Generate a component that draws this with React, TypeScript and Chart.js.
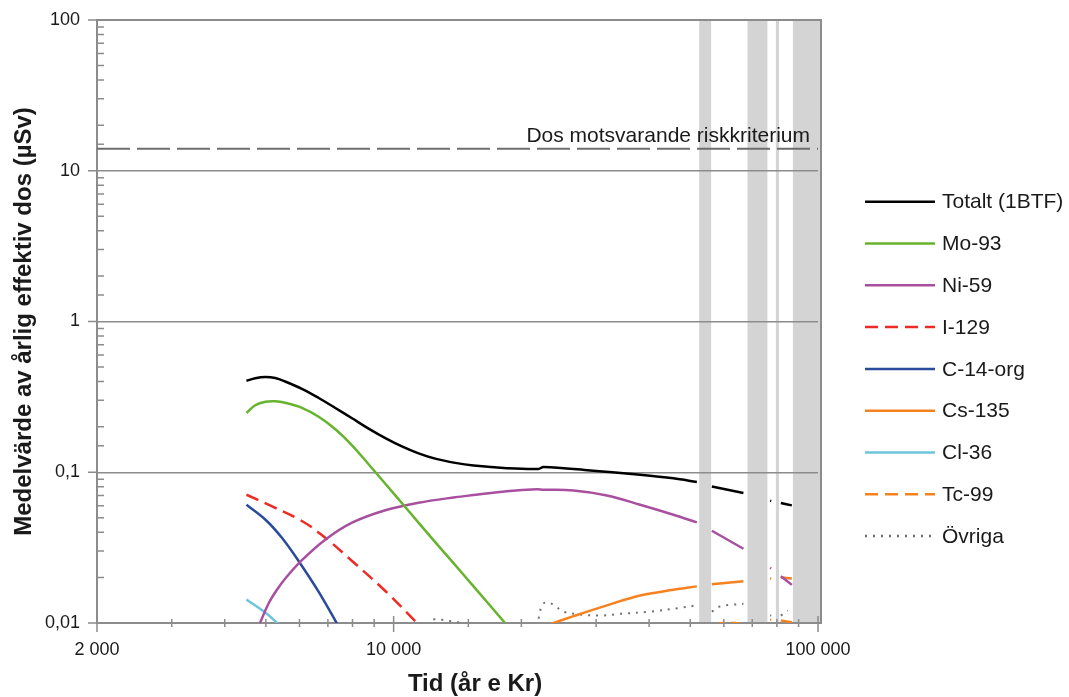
import React, { useEffect, useRef } from 'react';
import { Chart, registerables } from 'chart.js';

Chart.register(...registerables);

// ---------- data ----------
const xMin = 2000;
const xMax = 100000;
const yMin = 0.01;
const yMax = 100;

const xTickValues = [2000, 10000, 100000];
const xTickLabels = ['2 000', '10 000', '100 000'];
const yTickValues = [0.01, 0.1, 1, 10, 100];
const yTickLabels = ['0,01', '0,1', '1', '10', '100'];

const bandStarts = [52480, 68200, 79570, 87280];
const bandEnds = [56000, 76000, 80920, 100000];

const riskLevel = 14;
const riskLabel = 'Dos motsvarande riskkriterium';

const xTitle = 'Tid (år e Kr)';
const yTitle = 'Medelvärde av årlig effektiv dos (µSv)';

const totT = [4500, 4720, 4990, 5260, 5550, 6080, 6660, 7290, 7980, 8730, 9560, 10460, 11450, 12530, 13970, 15430, 18490, 21940, 22550, 29050, 38100, 45630, 51820, 54000, 56220, 66720, 72000, 77130, 77600, 79500, 81740, 86770];
const totV = [0.4044, 0.4207, 0.4279, 0.4214, 0.400, 0.3577, 0.311, 0.2669, 0.2281, 0.1949, 0.1686, 0.1485, 0.1335, 0.1231, 0.1154, 0.1109, 0.1065, 0.1052, 0.1083, 0.1028, 0.0962, 0.0911, 0.0861, null, 0.0805, 0.0728, null, 0.0647, 0.0645, null, 0.0625, 0.0603];

const moT = [4500, 4720, 4990, 5260, 5550, 6080, 6660, 7290, 7980, 8730, 9560, 10650, 12530, 13970, 15430, 18490];
const moV = [0.247, 0.2782, 0.2934, 0.2957, 0.289, 0.2677, 0.2334, 0.1928, 0.151, 0.113, 0.0839, 0.0588, 0.0344, 0.0242, 0.0175, 0.00967];

const niT = [4800, 5070, 5310, 5550, 6080, 6900, 7980, 9560, 11450, 13970, 15430, 18490, 21750, 22550, 26540, 31810, 38100, 45630, 51820, 54000, 56220, 66720, 72000, 77130, 77600, 79500, 81740, 86770];
const niV = [0.0094, 0.01343, 0.01663, 0.01967, 0.02609, 0.03568, 0.04627, 0.05598, 0.06277, 0.06826, 0.07059, 0.07482, 0.07716, 0.0766, 0.0757, 0.0702, 0.0609, 0.0523, 0.0465, null, 0.0409, 0.0311, null, 0.0232, 0.0230, null, 0.0204, 0.0179];

const iT = [4500, 5070, 6080, 6900, 7980, 9560, 11600];
const iV = [0.0709, 0.0609, 0.0475, 0.0368, 0.0258, 0.0163, 0.0094];

const cT = [4500, 4990, 5460, 5970, 6660, 7450];
const cV = [0.0609, 0.0484, 0.0366, 0.0258, 0.01608, 0.0093];

const csT = [23300, 26540, 31810, 38100, 45630, 51820, 54000, 56220, 66720, 72000, 77130, 77600, 79500, 81740, 86770];
const csV = [0.0098, 0.0111, 0.0131, 0.0152, 0.0166, 0.0175, null, 0.0181, 0.0189, null, 0.0197, 0.0197, null, 0.0201, 0.0197];

const clT = [4500, 4990, 5450];
const clV = [0.0143, 0.0117, 0.0094];

const tcT = [56220, 59500, 64000, 66720, 72000, 77130, 77600, 79500, 81740, 86770];
const tcV = [0.0095, 0.0100, 0.0100, 0.0097, null, 0.0105, 0.0105, null, 0.0104, 0.0101];

const ovT = [12400, 13000, 13600, 14800, 16000, 19000, 21700, 21940, 22100, 22500, 23130, 24030, 25080, 27510, 30670, 34180, 40230, 47320, 51820, 54000, 56220, 58800, 62650, 66720, 72000, 77130, 77600, 79500, 81740, 84890];
const ovV = [0.0106, 0.0105, 0.0103, 0.0099, 0.0095, null, 0.0095, 0.0105, 0.0118, 0.0134, 0.0137, 0.0130, 0.0119, 0.0114, 0.0112, 0.0115, 0.0119, 0.0126, 0.0131, null, 0.0119, 0.0129, 0.0132, 0.0134, null, 0.0112, 0.0112, null, 0.0112, 0.0121];

// ---------- styles ----------
const FONT = '"Liberation Sans", Arial, Helvetica, sans-serif';
const TEXT = '#1a1a1a';
const AXIS = '#8c8c8c';
const BAND = '#d4d4d4';

const SERIES = [
  { label: 'Totalt (1BTF)', T: totT, V: totV, color: '#000000', dash: [] as number[] },
  { label: 'Mo-93', T: moT, V: moV, color: '#66b32e', dash: [] as number[] },
  { label: 'Ni-59', T: niT, V: niV, color: '#a8509f', dash: [] as number[] },
  { label: 'I-129', T: iT, V: iV, color: '#ee2a24', dash: [13, 7] },
  { label: 'C-14-org', T: cT, V: cV, color: '#2a4b9b', dash: [] as number[] },
  { label: 'Cs-135', T: csT, V: csV, color: '#f5821f', dash: [] as number[] },
  { label: 'Cl-36', T: clT, V: clV, color: '#6cc5da', dash: [] as number[] },
  { label: 'Tc-99', T: tcT, V: tcV, color: '#f5821f', dash: [13, 7] },
  { label: 'Övriga', T: ovT, V: ovV, color: '#707070', dash: [2, 6] },
];

const isPow10 = (v: number) => {
  const l = Math.log10(v);
  return Math.abs(l - Math.round(l)) < 1e-6;
};
const idxOf = (arr: number[], v: number) => arr.findIndex((t) => Math.abs(t - v) / t < 1e-6);

const decor = {
  id: 'decor',
  beforeDraw(chart: any) {
    const { ctx, chartArea: a } = chart;
    const x = chart.scales.x;
    ctx.save();
    ctx.fillStyle = BAND;
    for (let i = 0; i < bandStarts.length; i++) {
      const x0 = x.getPixelForValue(bandStarts[i]);
      const x1 = bandEnds[i] >= xMax ? a.right + 3 : x.getPixelForValue(bandEnds[i]);
      ctx.fillRect(x0, a.top, x1 - x0, a.bottom - a.top);
    }
    ctx.restore();
  },
  beforeDatasetsDraw(chart: any) {
    const { ctx, chartArea: a } = chart;
    const x = chart.scales.x;
    const y = chart.scales.y;
    ctx.save();
    ctx.strokeStyle = AXIS;
    ctx.lineWidth = 2;
    ctx.strokeRect(a.left, a.top, a.right + 3 - a.left, a.bottom - a.top);
    ctx.lineWidth = 1.5;
    ctx.beginPath();
    for (const t of y.ticks) {
      const py = y.getPixelForValue(t.value);
      if (isPow10(t.value)) {
        ctx.moveTo(a.left - 9, py);
        ctx.lineTo(a.left, py);
      } else {
        ctx.moveTo(a.left, py);
        ctx.lineTo(a.left + 7, py);
      }
    }
    for (const t of x.ticks) {
      const px = x.getPixelForValue(t.value);
      if (idxOf(xTickValues, t.value) >= 0) {
        ctx.moveTo(px, a.bottom - 7);
        ctx.lineTo(px, a.bottom + 9);
      } else {
        ctx.moveTo(px, a.bottom - 4);
        ctx.lineTo(px, a.bottom + 4);
      }
    }
    ctx.stroke();
    ctx.restore();
  },
  afterDraw(chart: any) {
    const { ctx, chartArea: a } = chart;
    const y = chart.scales.y;
    ctx.save();
    // risk label
    ctx.fillStyle = TEXT;
    ctx.font = `21px ${FONT}`;
    ctx.textAlign = 'right';
    ctx.textBaseline = 'alphabetic';
    ctx.fillText(riskLabel, a.right - 8, y.getPixelForValue(riskLevel) - 7);
    // axis titles
    ctx.font = `bold 24px ${FONT}`;
    ctx.textAlign = 'center';
    ctx.textBaseline = 'middle';
    ctx.fillText(xTitle, 475, 684);
    ctx.save();
    ctx.translate(24, (a.top + a.bottom) / 2);
    ctx.rotate(-Math.PI / 2);
    ctx.fillText(yTitle, 0, 0);
    ctx.restore();
    // legend
    const lx0 = 865, lx1 = 935, tx = 942, ly0 = 201.7, step = 41.8;
    ctx.font = `21px ${FONT}`;
    ctx.textAlign = 'left';
    SERIES.forEach((s, i) => {
      const ly = ly0 + i * step;
      ctx.strokeStyle = s.color;
      ctx.lineWidth = 2.5;
      ctx.setLineDash(s.dash);
      ctx.beginPath();
      ctx.moveTo(lx0, ly);
      ctx.lineTo(lx1, ly);
      ctx.stroke();
      ctx.setLineDash([]);
      ctx.fillStyle = TEXT;
      ctx.fillText(s.label, tx, ly + 1);
    });
    ctx.restore();
  },
};

export default function App() {
  const ref = useRef<HTMLCanvasElement | null>(null);
  useEffect(() => {
    if (!ref.current) return;
    const datasets: any[] = SERIES.map((s) => ({
      label: s.label,
      data: s.T.map((t, i) => ({ x: t, y: s.V[i] })),
      borderColor: s.color,
      backgroundColor: s.color,
      borderWidth: s.dash.length === 2 && s.dash[0] === 2 ? 2 : 2.5,
      borderDash: s.dash,
      pointRadius: 0,
      fill: false,
      spanGaps: false,
      tension: 0.35,
    }));
    datasets.push({
      label: riskLabel,
      data: [{ x: xMin, y: riskLevel }, { x: xMax, y: riskLevel }],
      borderColor: '#6e6e6e',
      borderWidth: 2,
      borderDash: [33, 7],
      pointRadius: 0,
      fill: false,
      tension: 0,
    });
    const chart = new Chart(ref.current, {
      type: 'line',
      data: { datasets },
      options: {
        animation: false,
        responsive: true,
        maintainAspectRatio: false,
        layout: { padding: { left: 0, right: 251, top: 20, bottom: 0 } },
        plugins: { legend: { display: false }, tooltip: { enabled: false } },
        scales: {
          x: {
            type: 'logarithmic',
            min: xMin,
            max: xMax,
            afterFit: (s: any) => { s.height = 74; s.paddingLeft = 0; s.paddingRight = 0; },
            grid: { display: false, drawTicks: false },
            border: { display: false },
            ticks: {
              autoSkip: false,
              maxRotation: 0,
              padding: 16,
              color: TEXT,
              font: { family: FONT, size: 18 },
              callback: (v: any) => {
                const i = idxOf(xTickValues, Number(v));
                return i >= 0 ? xTickLabels[i] : '';
              },
            },
          },
          y: {
            type: 'logarithmic',
            min: yMin,
            max: yMax,
            afterFit: (s: any) => { s.width = 97; s.paddingTop = 0; s.paddingBottom = 0; },
            grid: {
              drawTicks: false,
              lineWidth: 1.5,
              color: (c: any) => (c.tick && isPow10(c.tick.value) ? AXIS : 'rgba(0,0,0,0)'),
            },
            border: { display: false },
            ticks: {
              autoSkip: false,
              padding: 17,
              color: TEXT,
              font: { family: FONT, size: 18 },
              callback: (v: any) => {
                const i = idxOf(yTickValues, Number(v));
                return i >= 0 ? yTickLabels[i] : '';
              },
            },
          },
        },
      } as any,
      plugins: [decor],
    });
    return () => chart.destroy();
  }, []);
  return (
    <div style={{ position: 'absolute', left: 0, top: 0, width: 1069, height: 697, background: '#fff' }}>
      <canvas ref={ref} />
    </div>
  );
}
